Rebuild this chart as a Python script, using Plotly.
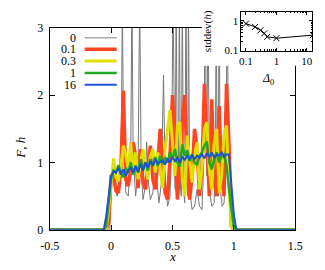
import plotly.graph_objects as go

# ---------------- data ----------------
X = [-0.5, -0.06, -0.04, -0.02, 0.00, 0.02, 0.04, 0.06, 0.08, 0.10, 0.12, 0.14, 0.16, 0.18,
     0.20, 0.22, 0.24, 0.26, 0.28, 0.30, 0.32, 0.34, 0.36, 0.38, 0.40, 0.42, 0.44, 0.46,
     0.48, 0.50, 0.52, 0.54, 0.56, 0.58, 0.60, 0.62, 0.64, 0.66, 0.68, 0.70, 0.72, 0.74,
     0.76, 0.78, 0.80, 0.82, 0.84, 0.86, 0.88, 0.90, 0.92, 0.94, 0.96, 0.98, 1.00, 1.02, 1.5]

H_red = [0, 0, 0, 0.1, 0.8, 0.82, 0.58, 0.55, 0.9, 2.07, 0.75, 0.65, 0.9, 1.3,
         1.1, 0.62, 1.2, 0.7, 0.6, 0.95, 1.25, 0.75, 0.6, 1.0, 1.5, 1.0, 0.55, 0.45,
         1.1, 2.0, 1.1, 0.45, 0.9, 1.6, 2.0, 0.9, 0.45, 0.8, 1.5, 1.2, 0.5, 0.9,
         2.17, 1.2, 0.5, 1.94, 0.7, 0.5, 1.84, 0.8, 0.5, 2.17, 1.3, 0.05, 0, 0, 0]

H_yellow = [0, 0, 0, 0.3, 0.7, 1.06, 0.78, 0.72, 0.95, 1.25, 1.1, 0.9, 1.3, 0.85,
            1.15, 0.75, 1.0, 1.2, 0.9, 0.75, 1.1, 1.2, 0.85, 1.15, 0.9, 0.62, 1.2, 1.5,
            1.78, 1.3, 0.8, 1.55, 1.6, 0.75, 0.5, 1.4, 1.0, 0.7, 1.1, 1.3, 0.6, 0.9,
            1.5, 1.6, 0.9, 0.6, 1.3, 1.5, 0.55, 0.8, 1.4, 1.55, 0.6, 0.05, 0, 0, 0]

H_green = [0, 0, 0.05, 0.4, 0.75, 0.88, 0.85, 0.96, 0.85, 0.78, 0.92, 0.85, 1.0, 0.82,
           0.95, 0.85, 1.05, 0.9, 1.0, 0.88, 1.05, 0.95, 1.08, 0.95, 1.1, 0.98, 1.08, 1.0,
           1.15, 1.05, 1.2, 1.0, 0.94, 1.27, 1.1, 1.18, 1.02, 1.12, 1.0, 0.96, 1.1, 1.15,
           1.25, 1.31, 1.0, 0.9, 1.05, 1.15, 1.0, 1.1, 1.12, 0.95, 0.6, 0.3, 0.05, 0, 0]

H_blue = [0, 0, 0.2, 0.5, 0.8, 0.87, 0.85, 0.92, 0.82, 0.90, 0.80, 0.88, 0.92, 0.85,
          0.95, 0.86, 0.98, 0.88, 1.0, 0.92, 1.02, 0.95, 1.05, 0.98, 1.0, 1.03, 0.97, 1.06,
          1.0, 1.08, 1.02, 1.07, 1.0, 1.08, 1.04, 1.1, 1.05, 1.12, 1.05, 1.1, 1.07, 1.12,
          1.06, 1.14, 1.08, 1.15, 1.07, 1.12, 1.1, 1.15, 1.08, 1.12, 1.12, 0.67, 0.22, 0, 0]

X_gray = [-0.5, -0.01, 0.0, 0.01, 0.03, 0.05, 0.07, 0.085, 0.092, 0.10, 0.12, 0.14, 0.16, 0.17,
          0.18, 0.20, 0.22, 0.233, 0.245, 0.26, 0.275, 0.29, 0.305, 0.32, 0.34, 0.36, 0.375,
          0.39, 0.41, 0.427, 0.44, 0.46, 0.48, 0.495, 0.504, 0.515, 0.522, 0.53, 0.54, 0.548,
          0.556, 0.565, 0.572, 0.58, 0.59, 0.60, 0.61, 0.62, 0.625, 0.63, 0.64, 0.66, 0.68,
          0.70, 0.72, 0.74, 0.755, 0.767, 0.778, 0.79, 0.80, 0.82, 0.84, 0.85, 0.856, 0.865,
          0.872, 0.88, 0.89, 0.905, 0.92, 0.935, 0.946, 0.955, 0.97, 0.985, 1.5]
H_gray = [0, 0, 0.5, 0.78, 0.62, 0.5, 0.7, 1.6, 3.5, 1.5, 0.55, 0.5, 1.1, 3.5,
          1.1, 0.5, 0.9, 3.5, 0.9, 0.45, 0.6, 1.3, 0.7, 0.45, 0.55, 1.0, 0.7,
          0.4, 0.7, 2.3, 0.8, 0.35, 0.5, 1.4, 3.5, 1.0, 0.6, 3.5, 0.8, 0.5,
          3.5, 0.6, 0.5, 3.5, 0.6, 0.4, 3.5, 0.6, 0.5, 3.5, 0.6, 0.3, 0.35,
          0.6, 0.35, 0.3, 1.0, 3.5, 0.8, 3.5, 0.6, 0.35, 0.4, 1.2, 3.5, 0.7,
          0.5, 3.5, 0.6, 0.35, 0.4, 1.0, 3.5, 1.2, 0.3, 0, 0]

series_names = ["0", "0.1", "0.3", "1", "16"]
series_colors = ["#777777", "#ff4422", "#e0e000", "#22a822", "#1f50d8"]
legend_colors = ["#aaaaaa", "#ff4422", "#e0e000", "#22a822", "#1f50d8"]
series_widths = [1, 3.5, 3, 2.5, 2]

delta0 = [0.1, 0.2, 0.3, 0.4, 0.5, 1, 16]
stddev_h = [0.8, 0.62, 0.48, 0.38, 0.29, 0.26, 0.33]

x_tickvals = [-0.5, 0, 0.5, 1, 1.5]
x_ticktext = ["-0.5", "0", "0.5", "1", "1.5"]
y_tickvals = [0, 1, 2, 3]
y_ticktext = ["0", "1", "2", "3"]
ix_tickvals = [0.1, 1, 10]
ix_ticktext = ["0.1", "1", "10"]
iy_tickvals = [0.1, 1]
iy_ticktext = ["0.1", "1"]

# ---------------- figure ----------------
W, Hh = 325, 270
def px(x):
    return x / W
def py(y):
    return 1 - y / Hh

FONT = "Liberation Serif, Times New Roman, serif"

fig = go.Figure()
ys = [H_gray, H_red, H_yellow, H_green, H_blue]
xs = [X_gray, X, X, X, X]
for name, xv, yv, c, w in zip(series_names, xs, ys, series_colors, series_widths):
    fig.add_trace(go.Scatter(x=xv, y=yv, mode="lines", name=name,
                             line=dict(color=c, width=w), showlegend=False,
                             hoverinfo="skip", xaxis="x", yaxis="y"))

# white cover behind the inset (empty subplot whose background hides the main plot)
fig.add_trace(go.Scatter(x=[], y=[], xaxis="x2", yaxis="y2", showlegend=False))

fig.add_trace(go.Scatter(x=delta0, y=stddev_h, mode="lines+markers",
                         line=dict(color="black", width=1),
                         marker=dict(symbol="x-thin", size=6, color="black",
                                     line=dict(color="black", width=1)),
                         showlegend=False, hoverinfo="skip", xaxis="x3", yaxis="y3"))

axis_common = dict(showline=True, linecolor="black", linewidth=1, mirror="ticks",
                   ticks="inside", tickcolor="black", showgrid=False, zeroline=False,
                   tickfont=dict(family=FONT, size=12, color="black"))

fig.update_layout(
    width=W, height=Hh, autosize=False,
    margin=dict(l=0, r=0, t=0, b=0),
    paper_bgcolor="white", plot_bgcolor="white",
    showlegend=False, hovermode=False,
    xaxis=dict(domain=[px(42), px(302)], range=[-0.5, 1.5], tickvals=x_tickvals,
               ticktext=x_ticktext, ticklen=5, anchor="y", ticklabelstandoff=5,
               **axis_common),
    yaxis=dict(domain=[py(235), py(22)], range=[0, 3], tickvals=y_tickvals,
               ticktext=y_ticktext, ticklen=5, anchor="x", ticklabelstandoff=3,
               **axis_common),
    xaxis2=dict(domain=[px(203), 1], range=[0, 1], visible=False, anchor="y2"),
    yaxis2=dict(domain=[py(62), 1], range=[0, 1], visible=False, anchor="x2"),
    xaxis3=dict(domain=[px(245), px(320)], type="log", range=[-1.15, 1.18],
                tickvals=ix_tickvals, ticktext=ix_ticktext, ticklen=3, anchor="y3",
                minor=dict(ticks="inside", ticklen=1.5, tickcolor="black",
                           tickvals=[0.2, 0.3, 0.4, 0.5, 0.6, 0.7, 0.8, 0.9,
                                     2, 3, 4, 5, 6, 7, 8, 9]),
                showline=True, linecolor="black", linewidth=1, mirror="allticks",
                ticks="inside", tickcolor="black", showgrid=False, zeroline=False,
                tickfont=dict(family=FONT, size=11, color="black")),
    yaxis3=dict(domain=[py(46), py(5)], type="log", range=[-1, 0.3],
                tickvals=iy_tickvals, ticktext=iy_ticktext, ticklen=3, anchor="x3",
                minor=dict(ticks="inside", ticklen=1.5, tickcolor="black",
                           tickvals=[0.2, 0.3, 0.4, 0.5, 0.6, 0.7, 0.8, 0.9, 2]),
                showline=True, linecolor="black", linewidth=1, mirror="allticks",
                ticks="inside", tickcolor="black", showgrid=False, zeroline=False,
                tickfont=dict(family=FONT, size=11, color="black")),
)

annotations = [
    dict(x=px(172), y=py(263), text="<i>x</i>",
         font=dict(family=FONT, size=13, color="black"), xanchor="center", yanchor="middle"),
    dict(x=px(11), y=py(148), text="<i>F</i>, <i>h</i>", textangle=-90,
         font=dict(family=FONT, size=13, color="black"), xanchor="center", yanchor="middle"),
    dict(x=px(209), y=py(25), text="stddev(<i>h</i>)", textangle=-90,
         font=dict(family=FONT, size=11, color="black"), xanchor="center", yanchor="middle"),
    dict(x=px(273), y=py(76), text="<i>Δ</i><sub>0</sub>",
         font=dict(family=FONT, size=12, color="black"), xanchor="center", yanchor="middle"),
]
shapes = []
leg_y = [32.5, 44.5, 57, 69.5, 82]
for name, c, w, yy in zip(series_names, legend_colors, series_widths, leg_y):
    annotations.append(dict(x=px(72), y=py(yy), text=name,
                            font=dict(family=FONT, size=12, color="black"),
                            xanchor="right", yanchor="middle"))
    shapes.append(dict(type="line", xref="paper", yref="paper",
                       x0=px(79), x1=px(113), y0=py(yy), y1=py(yy),
                       line=dict(color=c, width=max(w, 1.5))))
for a in annotations:
    a.update(xref="paper", yref="paper", showarrow=False)
fig.update_layout(annotations=annotations, shapes=shapes)

fig.write_html("out.html", config={"displayModeBar": False, "staticPlot": True},
               post_script="document.body.style.margin='0';document.body.style.padding='0';")
